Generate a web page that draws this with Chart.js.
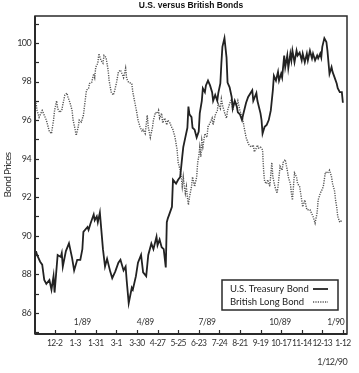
<!DOCTYPE html>
<html><head><meta charset="utf-8">
<script src="https://cdn.jsdelivr.net/npm/chart.js@4.4.0/dist/chart.umd.min.js"></script>
<style>html,body{margin:0;padding:0;background:#fff}</style>
</head><body>
<canvas id="c" width="359" height="373" style="width:359px;height:373px;display:block"></canvas>
<script>
const chartTitle = 'U.S. versus British Bonds';
const yAxisTitle = 'Bond Prices';
const dateNote = '1/12/90';
const tickDays = [0,20,40,60,80,100,120,140,160,180,200,220,240,260,280];
const tickLabels = ['12-2','1-3','1-31','3-1','3-30','4-27','5-25','6-23','7-24','8-21','9-19','10-17','11-14','12-13','1-12'];
const quarterLabels = ['1/89','4/89','7/89','10/89','1/90'];
const quarterDays = [27,88,148,219,273];
const yTicks = [86,88,90,92,94,96,98,100];
const seriesNames = ['U.S. Treasury Bond','British Long Bond'];

const usDays = [-18,-17,-14,-12,-10,-8,-5,-3,-1,0,3,6,7,8,11,14,17,19,22,25,27,28,32,33,35,38,39,41,42,44,47,49,51,54,56,59,62,64,67,69,70,72,75,76,79,81,84,86,89,91,94,96,99,100,102,104,106,108,109,110,112,114,115,118,120,122,124,125,127,129,130,131,133,134,136,138,140,141,143,144,146,147,149,151,153,154,156,158,159,161,162,163,165,167,168,170,172,173,175,177,178,180,182,183,186,188,192,193,196,197,200,201,202,204,206,208,210,212,213,215,217,218,220,221,223,224,226,227,229,230,231,233,235,236,238,240,241,243,245,246,248,250,251,253,255,256,258,259,260,262,264,265,267,269,270,272,274,275,277,279,280];
const usPrices = [89.2,89.0,88.65,88.5,87.7,87.5,87.7,87.2,87.9,87.05,89.0,88.9,89.1,88.4,89.2,89.6,88.85,88.2,88.75,88.75,89.3,90.2,90.45,90.3,90.65,91.1,90.8,91.0,90.7,91.2,89.3,88.4,88.8,88.15,87.8,88.15,88.6,88.75,88.2,88.4,87.7,86.5,87.3,87.2,87.9,88.6,89.0,88.1,87.9,89.0,89.6,89.3,89.95,89.5,89.8,89.4,89.3,88.35,90.7,90.9,91.2,91.5,92.9,92.7,92.9,93.05,94.1,94.6,95.1,95.6,96.7,96.3,96.15,95.6,95.5,95.1,95.4,96.35,97.0,97.65,97.45,97.8,98.05,97.8,97.45,97.0,97.3,97.0,97.4,97.9,98.95,99.8,100.25,99.25,97.95,97.7,97.2,96.6,97.0,96.7,96.4,96.3,96.0,96.25,96.9,97.2,97.55,97.0,97.4,97.0,96.35,96.0,95.3,95.65,95.75,96.0,96.5,97.55,98.3,98.05,98.5,98.05,98.4,98.2,99.35,98.75,99.35,98.7,99.45,99.1,99.6,99.0,99.6,99.35,99.5,99.1,99.45,99.0,99.45,99.1,99.6,99.2,99.45,99.1,99.35,99.2,99.45,99.25,99.8,100.25,100.05,99.6,98.4,98.75,98.5,98.2,97.9,97.65,97.45,97.45,96.9];

const ukDays = [-18,-17,-15,-12,-10,-8,-6,-5,-3,-1,0,2,3,5,7,8,10,12,13,15,17,18,20,21,23,24,26,28,29,31,33,34,36,38,39,40,42,43,45,47,48,50,52,53,55,57,58,60,62,64,67,69,70,72,75,76,78,80,81,83,85,86,88,90,91,93,95,96,98,100,101,102,104,105,107,109,110,112,114,115,117,119,120,122,123,124,125,126,127,128,129,130,131,133,134,135,136,137,138,139,140,141,142,143,144,146,148,149,151,153,154,156,158,159,161,162,163,165,167,168,170,172,173,175,177,178,180,183,184,186,188,189,191,193,194,196,197,198,200,202,203,204,206,207,209,211,212,214,216,217,219,221,222,224,226,227,229,230,231,233,235,236,238,240,241,243,245,248,251,253,255,256,258,259,261,263,265,267,269,270,272,273,274,275,277,279];
const ukPrices = [96.9,96.5,96.15,96.5,96.25,96.0,95.6,95.4,95.3,96.0,96.5,97.0,96.6,96.4,96.5,96.8,97.3,97.4,97.2,96.9,96.5,96.0,95.5,95.2,95.65,96.0,95.9,96.25,96.7,97.55,97.65,97.9,97.95,98.4,98.2,98.75,98.95,99.45,99.1,98.95,99.35,99.25,98.6,98.05,97.45,97.3,97.45,97.9,98.5,98.6,98.2,98.7,98.15,97.95,97.9,97.45,96.9,96.35,96.0,95.65,95.4,95.5,95.3,96.25,95.65,95.1,95.6,96.0,96.4,96.35,96.5,96.1,96.35,95.85,96.1,95.75,96.0,95.85,95.6,95.5,95.1,94.45,93.8,93.4,93.05,92.55,93.05,92.55,92.2,92.55,92.0,91.6,92.0,92.55,93.05,92.8,92.55,92.8,93.05,93.8,94.1,94.6,94.1,94.95,94.6,95.3,95.1,95.65,95.85,96.1,95.75,96.25,96.5,96.85,96.6,97.1,96.8,96.4,96.1,96.5,96.85,97.1,96.5,97.0,96.8,97.0,96.5,96.0,95.65,95.1,94.8,94.7,94.6,94.7,94.35,94.55,94.7,94.55,94.6,94.45,93.4,92.8,92.7,92.9,92.55,93.8,93.05,92.55,92.2,92.55,93.6,93.4,93.8,93.95,93.4,93.05,92.7,92.2,91.85,93.25,93.05,92.7,92.55,91.85,91.5,91.85,91.35,91.35,91.0,90.65,91.2,91.85,92.2,92.3,92.55,93.3,93.25,93.4,93.05,92.7,92.3,91.8,91.5,91.0,90.7,90.8];

const FONT = 'Lato, "Open Sans", sans-serif';
const INK = '#2a2a2a';

const decor = {
  id: 'decor',
  beforeDraw(chart) {
    chart.ctx.letterSpacing = '-0.65px';
  },
  afterDraw(chart) {
    const {ctx, chartArea: ca, scales: {x, y}} = chart;
    const seg = (x1, y1, x2, y2) => { ctx.beginPath(); ctx.moveTo(x1, y1); ctx.lineTo(x2, y2); ctx.stroke(); };
    ctx.save();
    ctx.strokeStyle = INK;
    ctx.lineWidth = 1.5;
    ctx.strokeRect(ca.left, ca.top, ca.right - ca.left, ca.bottom - ca.top);
    ctx.lineWidth = 2;
    seg(ca.left, ca.top, ca.left, ca.bottom);
    seg(ca.left, ca.bottom, ca.right, ca.bottom);
    ctx.lineWidth = 1.2;
    for (let v = Math.ceil(y.min); v <= y.max; v++) {
      const py = Math.round(y.getPixelForValue(v)) + 0.5;
      seg(ca.left, py, ca.left + 4, py);
    }
    tickDays.forEach(d => {
      const px = Math.round(x.getPixelForValue(d)) + 0.5;
      seg(px, ca.bottom, px, ca.bottom - 4);
    });
    ctx.letterSpacing = '-0.4px';
    ctx.fillStyle = '#333';
    ctx.font = '8.5px ' + FONT;
    ctx.textAlign = 'center';
    ctx.textBaseline = 'middle';
    quarterLabels.forEach((t, i) => ctx.fillText(t, x.getPixelForValue(quarterDays[i]), ca.bottom - 12));
    ctx.letterSpacing = '0px';
    ctx.fillStyle = '#111';
    ctx.font = 'bold 8.5px "Liberation Sans", Arial, sans-serif';
    ctx.fillText(chartTitle, (ca.left + ca.right) / 2, 6);
    const bx = ca.right - 125, by = ca.bottom - 54, bw = 116, bh = 30;
    ctx.fillStyle = '#fff';
    ctx.fillRect(bx, by, bw, bh);
    ctx.lineWidth = 1.5;
    ctx.strokeRect(bx, by, bw, bh);
    ctx.font = '9.5px ' + FONT;
    ctx.textAlign = 'left';
    chart.data.datasets.forEach((ds, i) => {
      const ly = by + 9 + i * 13;
      ctx.fillStyle = '#222';
      ctx.fillText(ds.label, bx + 8, ly);
      ctx.strokeStyle = ds.borderColor;
      ctx.lineWidth = ds.borderWidth;
      ctx.setLineDash(ds.borderDash || []);
      seg(bx + 91, ly, bx + 106, ly);
      ctx.setLineDash([]);
    });
    ctx.restore();
  }
};

new Chart(document.getElementById('c'), {
  type: 'line',
  data: {
    datasets: [
      {label: seriesNames[0], data: usDays.map((d, i) => ({x: d, y: usPrices[i]})), borderColor: '#222', borderWidth: 1.8, pointRadius: 0, tension: 0},
      {label: seriesNames[1], data: ukDays.map((d, i) => ({x: d, y: ukPrices[i]})), borderColor: '#555', borderWidth: 1.4, borderDash: [1.2, 1.2], pointRadius: 0, tension: 0}
    ]
  },
  options: {
    responsive: false,
    animation: false,
    devicePixelRatio: 1,
    layout: {padding: {top: 16, right: 12, left: 0, bottom: 0}},
    plugins: {legend: {display: false}, tooltip: {enabled: false}, title: {display: false}},
    scales: {
      x: {
        type: 'linear', min: -19, max: 284,
        grid: {display: false, drawTicks: false},
        border: {display: false},
        afterBuildTicks: s => { s.ticks = tickDays.map(v => ({value: v})); },
        afterFit: s => { s.height = 39; },
        ticks: {padding: 4, color: '#333', font: {family: FONT, size: 8.5}, maxRotation: 0, autoSkip: false,
          callback: v => tickLabels[tickDays.indexOf(v)]},
        title: {display: true, text: dateNote, align: 'end', color: '#333', font: {family: FONT, size: 9}, padding: {top: 0, bottom: 6}}
      },
      y: {
        type: 'linear', min: 84.9, max: 101.4,
        grid: {display: false, drawTicks: false},
        border: {display: false},
        afterBuildTicks: s => { s.ticks = yTicks.map(v => ({value: v})); },
        afterFit: s => { s.width = 35; },
        ticks: {padding: 4, color: '#333', font: {family: FONT, size: 9}},
        title: {display: true, text: yAxisTitle, color: '#333', font: {family: FONT, size: 10}, padding: {top: 2, bottom: 0}}
      }
    }
  },
  plugins: [decor]
});
</script>
</body></html>
